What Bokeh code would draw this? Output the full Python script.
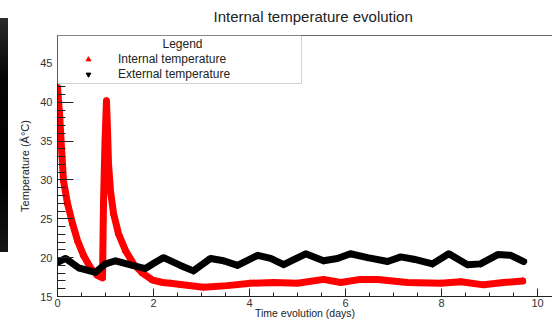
from bokeh.plotting import figure
from bokeh.models import (Range1d, SingleIntervalTicker, FixedTicker, LinearAxis, Legend, LegendItem,
                          Label, BoxAnnotation, Div, ColumnDataSource)
from bokeh.layouts import row
from bokeh.embed import file_html
from bokeh.resources import INLINE

# ---- data ----
int_days = [0.0, 0.042, 0.083, 0.125, 0.208, 0.3125, 0.417, 0.542, 0.6875, 0.833, 0.9375,
            0.958, 0.99, 1.02, 1.042, 1.0625, 1.104, 1.167, 1.27, 1.417, 1.583, 1.77, 1.98, 2.19,
            2.35, 3.04, 3.54, 4.02, 4.5, 5.0, 5.54, 5.9, 6.31, 6.67, 7.29, 7.98, 8.4, 8.875,
            9.29, 9.69]
int_temp = [41.9, 38.6, 34.2, 29.9, 27.0, 24.4, 22.2, 20.3, 18.7, 17.7, 17.4,
            27.0, 35.0, 40.2, 36.4, 32.1, 28.6, 25.7, 23.1, 20.9, 19.2, 18.0, 17.1, 16.8,
            16.7, 16.2, 16.4, 16.7, 16.8, 16.7, 17.2, 16.8, 17.2, 17.2, 16.8, 16.7, 16.9, 16.5,
            16.8, 17.0]

ext_days = [0.0, 0.167, 0.4375, 0.79, 1.0, 1.21, 1.56, 1.83, 2.04, 2.21, 2.56, 2.83, 3.19,
            3.46, 3.75, 4.17, 4.44, 4.71, 5.17, 5.54, 5.83, 6.10, 6.46, 6.875, 7.15, 7.42, 7.81,
            8.15, 8.54, 8.81, 9.17, 9.44, 9.71]
ext_temp = [19.4, 19.9, 18.7, 18.1, 19.2, 19.6, 19.0, 18.6, 19.4, 20.0, 19.0, 18.3, 19.9,
            19.6, 19.0, 20.3, 19.9, 19.1, 20.5, 19.6, 19.9, 20.5, 20.0, 19.5, 20.1, 19.8, 19.2,
            20.5, 19.1, 19.2, 20.4, 20.3, 19.5]

title_text = "Internal temperature evolution"
x_label = "Time evolution (days)"
y_label = "Temperature (Â°C)"
legend_title = "Legend"
series_names = ["Internal temperature", "External temperature"]

FONT = "Liberation Sans"

p = figure(width=544, height=321, output_backend="svg", toolbar_location=None,
           x_range=Range1d(0, 10.31), y_range=Range1d(15, 48.6),
           min_border_left=49, min_border_right=0, min_border_top=35, min_border_bottom=25,
           background_fill_color="white", border_fill_color="white")
p.outline_line_color = None
p.grid.visible = False

p.title.text = title_text
p.title.align = "left"
p.title.offset = 156
p.title.padding = dict(left=0, right=0, top=0, bottom=6)
p.title.text_font = FONT
p.title.text_font_size = "15px"
p.title.text_font_style = "normal"
p.title.text_color = "#222222"

src_i = ColumnDataSource(dict(x=int_days, y=int_temp))
src_e = ColumnDataSource(dict(x=ext_days, y=ext_temp))

sc_i = p.scatter("x", "y", source=src_i, marker="triangle", size=6, color="red")
sc_e = p.scatter("x", "y", source=src_e, marker="inverted_triangle", size=6, color="black")
p.line("x", "y", source=src_i, line_color="red", line_width=7, line_join="round", line_cap="round")
p.line("x", "y", source=src_e, line_color="black", line_width=7, line_join="round", line_cap="round")

# axes
xa = p.xaxis[0]
xa.ticker = SingleIntervalTicker(interval=2, num_minor_ticks=4)
ya = p.yaxis[0]
ya.ticker = SingleIntervalTicker(interval=5, num_minor_ticks=5)
for ax in (xa, ya):
    ax.axis_line_color = "#222222"
    ax.major_tick_line_color = "#222222"
    ax.minor_tick_line_color = "#222222"
    ax.major_tick_out = 0
    ax.minor_tick_out = 0
    ax.major_label_text_font = FONT
    ax.major_label_text_font_size = "11px"
    ax.major_label_text_color = "#333333"
    ax.axis_label_text_font = FONT
    ax.axis_label_text_font_style = "normal"
    ax.axis_label_text_color = "#222222"
xa.major_tick_in = 8
xa.minor_tick_in = 4
ya.major_tick_in = 16
ya.minor_tick_in = 8
xa.axis_label = x_label
xa.axis_label_text_font_size = "10.5px"
xa.major_label_standoff = 2
xa.axis_label_standoff = -3
ya.axis_label = y_label
ya.axis_label_text_font_size = "11px"
ya.major_label_standoff = 5
ya.axis_label_standoff = 6

top = LinearAxis(ticker=FixedTicker(ticks=[]), axis_line_color="#666666",
                 major_tick_out=0, minor_tick_out=0, major_tick_in=0, minor_tick_in=0)
p.add_layout(top, "above")

# legend box + title + entries
box = BoxAnnotation(left=0, right=244, top=261, bottom=213,
                    left_units="screen", right_units="screen", top_units="screen", bottom_units="screen",
                    fill_color="white", fill_alpha=1.0, line_color="#666666", line_width=1,
                    level="annotation")
p.add_layout(box)
p.add_layout(Label(x=125, y=253, x_units="screen", y_units="screen", text=legend_title,
                   text_align="center", text_baseline="middle", text_font=FONT,
                   text_font_size="12px", text_color="#222222"))
legend = Legend(items=[LegendItem(label=series_names[0], renderers=[sc_i]),
                       LegendItem(label=series_names[1], renderers=[sc_e])],
                location="top_left", margin=17, padding=0, spacing=1,
                glyph_width=28, glyph_height=12, label_height=12, label_standoff=16,
                label_text_font=FONT, label_text_font_size="12px", label_text_color="#222222",
                border_line_color=None, background_fill_alpha=0)
p.add_layout(legend)

strip = Div(width=8, height=234, margin=(18, 0, 0, 0),
            styles={"background": "linear-gradient(to bottom, #2b2b2b 0%, #050505 25%, #000 70%, #161616 100%)"})

layout = row(strip, p, spacing=0)
open("out.html", "w").write(file_html(layout, INLINE))
